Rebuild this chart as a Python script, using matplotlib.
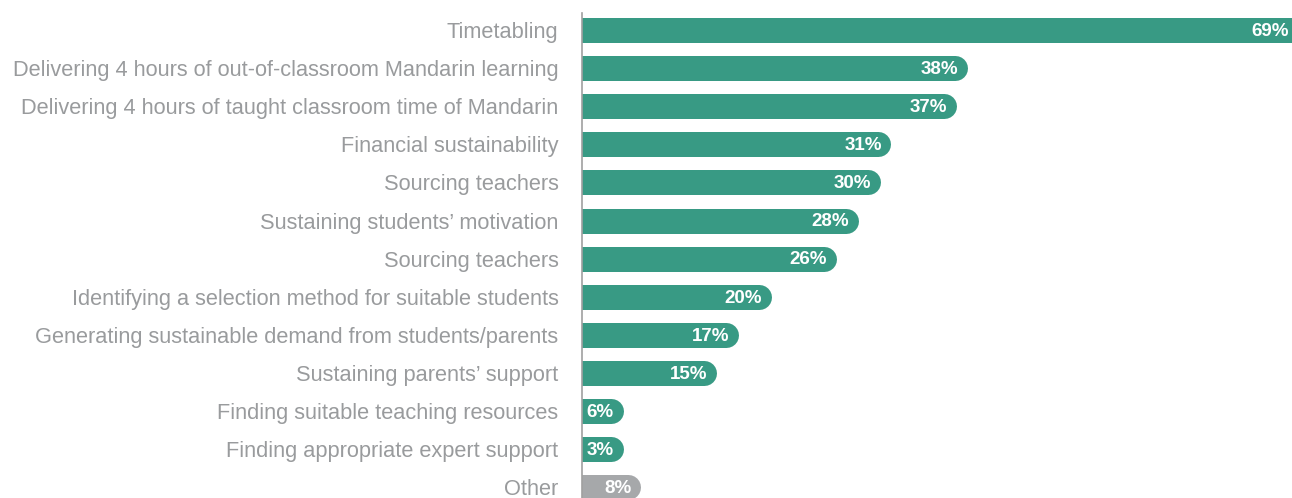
import matplotlib
matplotlib.use('Agg')
import matplotlib.pyplot as plt

categories = [
    "Timetabling",
    "Delivering 4 hours of out-of-classroom Mandarin learning",
    "Delivering 4 hours of taught classroom time of Mandarin",
    "Financial sustainability",
    "Sourcing teachers",
    "Sustaining students\u2019 motivation",
    "Sourcing teachers",
    "Identifying a selection method for suitable students",
    "Generating sustainable demand from students/parents",
    "Sustaining parents\u2019 support",
    "Finding suitable teaching resources",
    "Finding appropriate expert support",
    "Other",
]
values = [69, 38, 37, 31, 30, 28, 26, 20, 17, 15, 6, 3, 8]
labels = [f"{v}%" for v in values]

TEAL = '#389A84'
GREY = '#A6A8AA'
TEXT = '#999B9D'
colors = [TEAL] * 12 + [GREY]

plt.rcParams['font.family'] = ['Liberation Sans', 'DejaVu Sans']

fig = plt.figure(figsize=(12.92, 4.98), dpi=100)
ax = fig.add_axes([582 / 1292, 0, 710 / 1292, 485 / 498])

px = 10.9          # pixels per percentage point
x0 = 29 / px       # bars start a little behind the axis line
x1 = x0 + 710 / px
ax.set_xlim(x0, x1)
n = len(values)
ax.set_ylim(n - 1 + 0.283, -0.446)

r = 12.5 / px      # radius of the rounded end, in data units
min_end = x0 + 41 / px
for i, (v, c, lab) in enumerate(zip(values, colors, labels)):
    end = max(v, min_end)
    # thick line with round cap = bar with rounded right end
    ax.plot([-5, end - r], [i, i], color=c, lw=18, solid_capstyle='round')
    # keep the label visible when the bar runs past the right edge
    lx = min(end, x1 + 6 / px)
    ax.annotate(lab, xy=(lx, i), xytext=(-6.5, -1), textcoords='offset points',
                ha='right', va='center', color='white', fontsize=13.5,
                fontweight='bold', annotation_clip=False)

ax.set_yticks(range(n))
ax.set_yticklabels(categories, fontsize=15.7, color=TEXT)
ax.tick_params(axis='y', length=0, pad=17)
ax.set_xticks([])
for s in ['top', 'right', 'bottom']:
    ax.spines[s].set_visible(False)
ax.spines['left'].set_color('#A0A0A0')
ax.spines['left'].set_linewidth(1.2)
ax.spines['left'].set_zorder(5)

fig.savefig('out.png', dpi=100)
